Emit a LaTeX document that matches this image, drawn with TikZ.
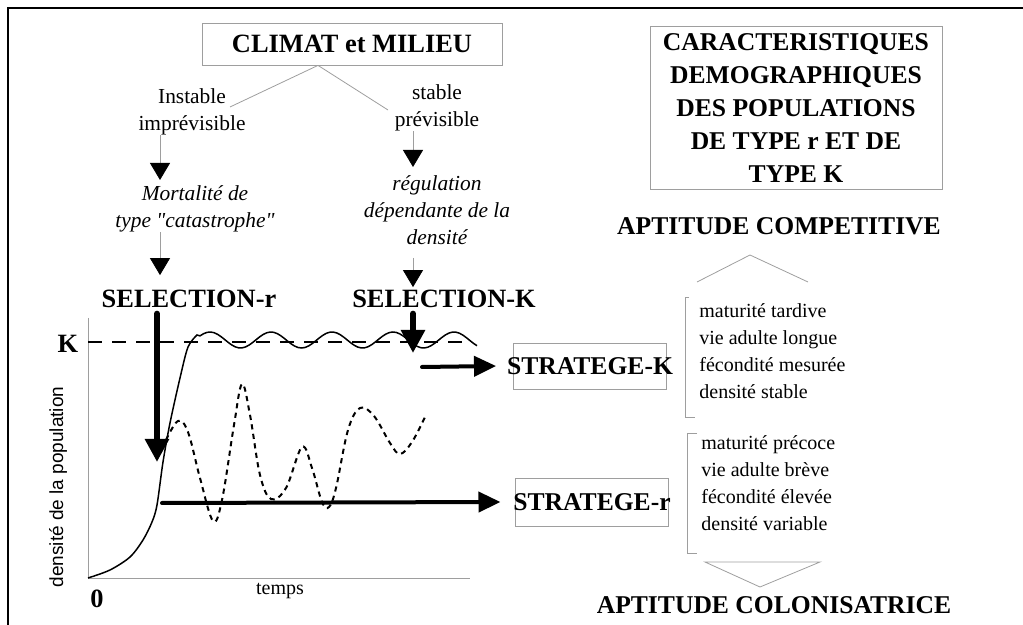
\documentclass[tikz,border=0pt]{standalone}
\usepackage{fontspec}
\setmainfont{Liberation Serif}
\newfontfamily\axisfont{Liberation Sans}
\usetikzlibrary{arrows.meta,positioning}
\definecolor{boxgray}{rgb}{0.62,0.62,0.62}
\newcommand{\bigbf}{\fontsize{13.2}{16.5}\selectfont\bfseries}
\newcommand{\midbf}{\fontsize{12.8}{16.5}\selectfont\bfseries}
\newcommand{\plain}{\fontsize{10.7}{13.5}\selectfont}
\newcommand{\listfont}{\fontsize{10}{13.3}\selectfont}

\begin{document}
\begin{tikzpicture}[x=0.5pt,y=-0.5pt,
    txt/.style={inner sep=0pt},
    box/.style={draw=boxgray,line width=0.4pt},
    thinarr/.style={draw=boxgray,line width=0.4pt,-{Triangle[length=8.5pt,width=10pt,color=black]}},
    fatarr/.style={line width=3pt,line cap=round,-{Triangle[length=11.5pt,width=11.5pt]}},
    hzarr/.style={line width=2pt,line cap=round,-{Triangle[length=11pt,width=10pt]}}]
        \useasboundingbox (0,0) rectangle (1023,625);
        \draw[line width=1pt] (8,625) -- (8,8) -- (1023,8);
        % climat et milieu
        \node[box,font=\bigbf,minimum width=150pt,minimum height=21pt] (climat) at (352,44) {CLIMAT et MILIEU};
        \node[txt,align=center,font=\plain,anchor=north] (instable) at (192,88) {Instable\\imprévisible};
        \node[txt,align=center,font=\plain,anchor=north] (stable) at (437,84) {stable\\prévisible};
        \node[txt,align=center,font=\plain\itshape,anchor=north] (mortalite) at (195,185) {Mortalité de\\type \textquotedbl catastrophe\textquotedbl};
        \node[txt,align=center,font=\plain\itshape,anchor=north] (regulation) at (437,175) {régulation\\dépendante de la\\densité};
        \node[txt,font=\bigbf,anchor=base] (selr) at (189,308) {SELECTION-r};
        \node[txt,font=\bigbf,anchor=base] (selk) at (444,308) {SELECTION-K};
        \coordinate (li) at (230,107);
        \coordinate (ls) at (388,110);
        \draw[box] ([xshift=-17pt]climat.south) -- (li);
        \draw[box] ([xshift=-17pt]climat.south) -- (ls);
        \coordinate (lx) at (160,0);
        \coordinate (rx) at (413,0);
        \draw[thinarr] (instable.south -| lx) -- ([yshift=2.5pt]mortalite.north -| lx);
        \draw[thinarr] (mortalite.south -| lx) -- ([yshift=7.5pt]selr.north -| lx);
        \draw[thinarr] (stable.south -| rx) -- ([yshift=4pt]regulation.north -| rx);
        \draw[thinarr] ([yshift=-6.5pt]regulation.south -| rx) -- ([yshift=1.5pt]selk.north -| rx);
        % graphe
        \draw[boxgray,line width=0.3pt] (88,318) -- (88,578) -- (470,578);
        \draw[line width=0.7pt,dash pattern=on 7pt off 5pt] (88,342) -- (463,342);
        \draw[line width=0.75pt] plot[smooth] coordinates {(88,578) (110,570) (130,557) (143,540) (152,522) (157,505) (163,462) (170,423) (180,378) (188,347) (197,335)}
            -- plot[domain=200:477,samples=80] (\x,{340-8*cos((\x-210)/61*360)});
        \draw[line width=1pt,dash pattern=on 2.6pt off 2.2pt] plot[smooth,tension=0.6] coordinates {(166,440) (178,421) (188,432) (200,478) (213,521) (222,500) (234,425) (242,384) (250,415) (260,475) (271,499) (286,488) (302,447) (312,468) (322,502) (329,507) (336,488) (348,430) (360,408) (374,416) (390,443) (400,454) (412,442) (425,417)};
        \node[txt,font=\bigbf,anchor=base] (klab) at (68,353) {K};
        \node[txt,font=\bigbf,anchor=base] (zero) at (97,607) {0};
        \node[txt,font=\listfont,anchor=base] (temps) at (280,595) {temps};
        \node[txt,font=\axisfont\fontsize{9.5}{11}\selectfont,rotate=90] (ylab) at (58,487) {densité de la population};
        % strateges
        \node[box,font=\midbf,inner xsep=-3.2pt,minimum height=23pt] (stratk) at (590,366) {STRATEGE-K};
        \node[box,font=\midbf,inner xsep=-1.3pt,minimum height=24pt] (stratr) at (592,502) {STRATEGE-r};
        \coordinate (hitr) at (157,462);
        \coordinate (hitk) at (413,353);
        \draw[fatarr] ([yshift=-2.5pt]selr.south -| hitr) -- (hitr);
        \draw[fatarr] ([yshift=-2.5pt]selk.south -| hitk) -- (hitk);
        \coordinate (startk) at (422,367);
        \coordinate (startr) at (162,503);
        \draw[hzarr] (startk) -- ([xshift=-8.5pt]stratk.west);
        \draw[hzarr] (startr) -- ([xshift=-7.5pt]stratr.west);
        % caracteristiques
        \node[box,font=\midbf,align=center,minimum width=146pt,minimum height=80pt] (caract) at (796,108) {CARACTERISTIQUES\\DEMOGRAPHIQUES\\DES POPULATIONS\\DE TYPE r ET DE\\TYPE K};
        \node[txt,font=\midbf,anchor=base] (compet) at (779,235) {APTITUDE COMPETITIVE};
        \node[txt,font=\midbf,anchor=base] (colon) at (774,613) {APTITUDE COLONISATRICE};
        \draw[box] (697,282) -- (750,255) -- (808,282);
        \draw[box] (705,562) -- (820,562) -- (760,587) -- cycle;
        \draw[box] (689,297) -- (685,297) -- (685,417) -- (695,417);
        \draw[box] (697,433) -- (687,433) -- (687,553) -- (697,553);
        \foreach \t [count=\i] in {maturité tardive, vie adulte longue, fécondité mesurée, densité stable}
            \node[txt,font=\listfont,anchor=base west] (k\i) at (699,{318+26.7*(\i-1)}) {\t};
        \foreach \t [count=\i] in {maturité précoce, vie adulte brève, fécondité élevée, densité variable}
            \node[txt,font=\listfont,anchor=base west] (r\i) at (701,{450+26.7*(\i-1)}) {\t};
\end{tikzpicture}
\end{document}
